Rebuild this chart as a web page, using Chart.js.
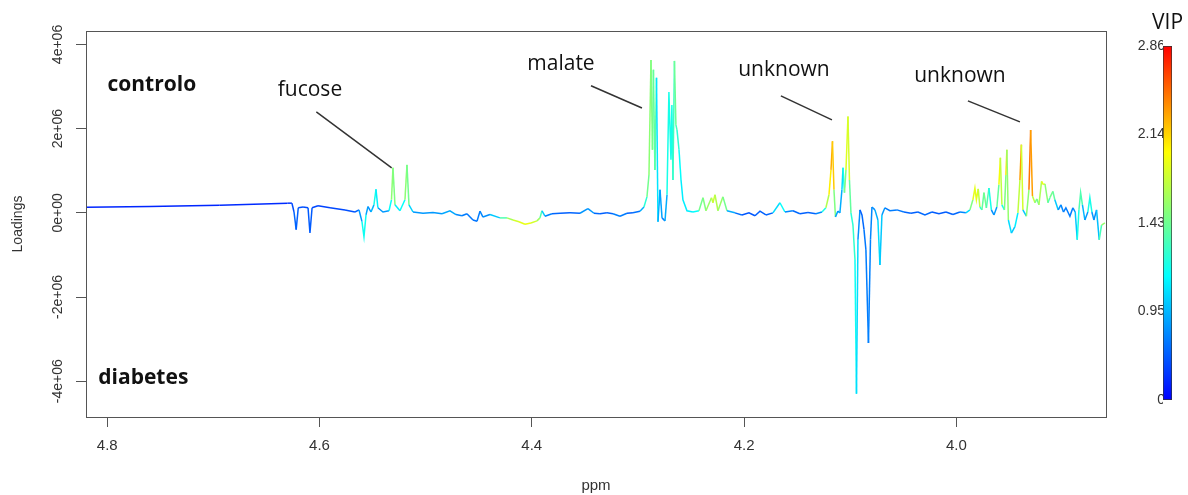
<!DOCTYPE html>
<html>
<head>
    <title>PLS-DA loadings, 3.86-4.82 ppm</title>
    <script src="https://cdn.jsdelivr.net/npm/chart.js"></script>
    <style>
        body { margin: 0; background: #fff; }
        canvas { position: absolute; top: 0; }
        #loadings { left: 0; }
        #vipBar { left: 1110px; }
    </style>
</head>
<body>
    <canvas id="loadings" width="1110" height="495"></canvas>
    <canvas id="vipBar" width="78" height="495"></canvas>
    <script>
        // chemical shift (ppm), loading and VIP of each spectrum point
        const ppm = [4.820, 4.760, 4.694, 4.630, 4.626, 4.624, 4.622, 4.620, 4.6155, 4.6108,
            4.609, 4.607, 4.6014, 4.5901, 4.576, 4.5666, 4.5628, 4.560, 4.5581, 4.5562,
            4.5543, 4.5515, 4.5487, 4.5468, 4.545, 4.5402, 4.5345, 4.5322, 4.5308, 4.5289,
            4.5242, 4.5195, 4.5176, 4.5157, 4.5119, 4.5025, 4.4931, 4.4846, 4.4771, 4.4714,
            4.4658, 4.4611, 4.4554, 4.4516, 4.4488, 4.446, 4.4394, 4.430, 4.4234, 4.4177,
            4.4121, 4.4064, 4.4008, 4.3951, 4.3923, 4.3904, 4.3876, 4.381, 4.3734, 4.364,
            4.3546, 4.3471, 4.3414, 4.3358, 4.3292, 4.3235, 4.3169, 4.3103, 4.3047, 4.2981,
            4.2943, 4.2915, 4.2896, 4.2877, 4.2863, 4.2854, 4.2840, 4.2825, 4.2811, 4.2792,
            4.2773, 4.2745, 4.2726, 4.2708, 4.2689, 4.2680, 4.2670, 4.2656, 4.2642, 4.2632,
            4.2613, 4.2594, 4.2576, 4.2538, 4.2482, 4.2425, 4.2387, 4.2359, 4.2307, 4.2293,
            4.2274, 4.2246, 4.2199, 4.2161, 4.2086, 4.2020, 4.1954, 4.1897, 4.1850, 4.1794,
            4.1728, 4.1662, 4.1615, 4.1540, 4.1474, 4.1398, 4.1323, 4.1266, 4.1229, 4.1200,
            4.1181, 4.1167, 4.1153, 4.1139, 4.1116, 4.1097, 4.1078, 4.1068, 4.1054, 4.1040,
            4.1021, 4.1007, 4.0993, 4.0974, 4.0955, 4.0941, 4.0927, 4.0908, 4.0889, 4.0870,
            4.0852, 4.0828, 4.0809, 4.0795, 4.0767, 4.0739, 4.0720, 4.0701, 4.0673, 4.0626,
            4.0560, 4.0494, 4.0428, 4.0362, 4.0296, 4.0230, 4.0164, 4.0098, 4.0032, 3.9966,
            3.9910, 3.9872, 3.9844, 3.9825, 3.9811, 3.9794, 3.9778, 3.9759, 3.9740, 3.9717,
            3.9693, 3.9670, 3.9646, 3.9618, 3.9599, 3.9585, 3.9571, 3.9547, 3.9533, 3.9524,
            3.9510, 3.9481, 3.9448, 3.9420, 3.9401, 3.9387, 3.9373, 3.9340, 3.9316, 3.9300,
            3.9283, 3.9259, 3.9241, 3.9222, 3.9197, 3.9180, 3.9165, 3.9137, 3.9119, 3.9090,
            3.9072, 3.9040, 3.9015, 3.8991, 3.8968, 3.8930, 3.8902, 3.8880, 3.8861, 3.8845,
            3.8829, 3.8812, 3.8789, 3.8761, 3.8742, 3.8723, 3.8704, 3.8679, 3.8654, 3.8632,
            3.8600];

        const loading = [0.13e6, 0.15e6, 0.18e6, 0.23e6, 0.23e6, 0.02e6, -0.40e6, 0.12e6, 0.14e6, 0.12e6,
            -0.48e6, 0.12e6, 0.17e6, 0.12e6, 0.07e6, 0.02e6, 0.07e6, -0.21e6, -0.57e6, -0.05e6,
            0.15e6, 0.02e6, 0.19e6, 0.56e6, 0.12e6, 0.02e6, 0.05e6, 0.31e6, 1.07e6, 0.19e6,
            0.05e6, 0.31e6, 1.14e6, 0.19e6, 0.02e6, -0.01e6, 0.01e6, -0.02e6, 0.05e6, -0.04e6,
            -0.07e6, -0.02e6, -0.17e6, -0.20e6, 0.04e6, -0.10e6, -0.04e6, -0.12e6, -0.12e6, -0.17e6,
            -0.21e6, -0.27e6, -0.24e6, -0.19e6, -0.12e6, 0.05e6, -0.08e6, -0.02e6, -0.01e6, 0.00e6,
            -0.01e6, 0.10e6, -0.01e6, -0.02e6, 0.00e6, -0.02e6, -0.08e6, -0.01e6, 0.00e6, 0.04e6,
            0.14e6, 0.38e6, 0.90e6, 3.63e6, 1.50e6, 3.40e6, 1.02e6, 3.21e6, -0.21e6, 0.55e6,
            -0.12e6, -0.19e6, 0.43e6, 2.87e6, 1.26e6, 2.56e6, 0.78e6, 3.61e6, 2.09e6, 1.97e6,
            1.50e6, 0.78e6, 0.31e6, 0.05e6, 0.02e6, 0.05e6, 0.36e6, 0.05e6, 0.36e6, 0.24e6,
            0.43e6, 0.05e6, 0.38e6, 0.05e6, 0.00e6, -0.05e6, 0.00e6, -0.07e6, 0.04e6, -0.05e6,
            0.00e6, 0.24e6, 0.02e6, 0.05e6, -0.02e6, 0.01e6, -0.02e6, 0.02e6, 0.12e6, 0.43e6,
            1.02e6, 1.70e6, 0.55e6, -0.10e6, 0.04e6, 0.00e6, 0.55e6, 1.07e6, 0.48e6, 1.02e6,
            2.29e6, 0.78e6, 0.00e6, -0.29e6, -1.12e6, -4.30e6, -0.64e6, 0.07e6, -0.05e6, -0.40e6,
            -0.88e6, -3.09e6, -0.64e6, 0.14e6, 0.07e6, -0.17e6, -1.24e6, -0.05e6, 0.12e6, 0.05e6,
            0.07e6, 0.02e6, -0.01e6, 0.02e6, -0.05e6, 0.02e6, -0.02e6, 0.02e6, -0.04e6, 0.02e6,
            0.00e6, 0.07e6, 0.31e6, 0.59e6, 0.31e6, 0.57e6, 0.14e6, 0.07e6, 0.48e6, 0.12e6,
            0.59e6, 0.07e6, -0.05e6, 0.14e6, 0.67e6, 1.31e6, 0.19e6, 0.07e6, 0.90e6, 1.50e6,
            -0.17e6, -0.48e6, -0.33e6, 0.00e6, 0.78e6, 1.62e6, 0.07e6, -0.08e6, 0.55e6, 1.97e6,
            0.40e6, 0.24e6, 0.33e6, 0.19e6, 0.75e6, 0.67e6, 0.69e6, 0.24e6, 0.36e6, 0.51e6,
            0.31e6, 0.07e6, 0.19e6, 0.02e6, 0.12e6, -0.08e6, 0.12e6, 0.02e6, -0.64e6, 0.07e6,
            0.48e6, 0.19e6, -0.17e6, 0.02e6, 0.36e6, 0.02e6, -0.17e6, 0.07e6, -0.64e6, -0.29e6,
            -0.24e6];

        const vip = [0.2, 0.2, 0.2, 0.25, 0.3, 0.5, 0.55, 0.45, 0.4, 0.4,
            0.55, 0.4, 0.35, 0.35, 0.4, 0.45, 0.6, 1.0, 1.35, 1.0,
            0.7, 0.8, 1.1, 1.3, 0.9, 0.7, 0.9, 1.4, 1.7, 1.3,
            0.9, 1.4, 1.7, 1.2, 0.85, 0.75, 0.85, 0.75, 1.0, 0.75,
            0.65, 0.65, 0.6, 0.6, 0.7, 0.7, 0.8, 1.2, 1.5, 1.8,
            1.85, 1.95, 1.9, 1.75, 1.5, 1.2, 0.8, 0.55, 0.5, 0.5,
            0.55, 1.0, 0.6, 0.5, 0.5, 0.55, 0.8, 0.5, 0.5, 0.7,
            1.1, 1.4, 1.5, 1.6, 1.4, 1.5, 1.3, 1.45, 0.7, 1.1,
            0.6, 0.7, 1.1, 1.3, 1.1, 1.3, 1.1, 1.5, 1.35, 1.3,
            1.2, 1.1, 1.1, 1.1, 1.1, 1.2, 1.7, 1.3, 1.9, 1.6,
            2.0, 1.4, 1.8, 1.1, 0.7, 0.45, 0.45, 0.45, 0.55, 0.45,
            0.6, 1.5, 0.8, 0.6, 0.5, 0.5, 0.55, 0.9, 1.5, 1.9,
            2.2, 2.35, 2.0, 1.0, 0.7, 0.8, 1.0, 1.1, 1.3, 1.7,
            2.05, 1.6, 1.2, 1.3, 1.25, 1.1, 1.0, 0.5, 0.5, 0.6,
            0.65, 0.65, 0.7, 0.7, 0.8, 1.0, 1.1, 0.9, 0.7, 0.6,
            0.7, 0.55, 0.5, 0.5, 0.6, 0.5, 0.45, 0.5, 0.5, 0.6,
            0.8, 1.3, 1.7, 2.1, 1.7, 2.1, 1.4, 1.1, 1.7, 1.2,
            1.5, 0.9, 0.6, 1.0, 1.8, 2.1, 1.4, 1.0, 2.0, 2.15,
            1.0, 1.1, 0.9, 1.3, 2.2, 2.45, 1.2, 0.8, 2.3, 2.65,
            2.0, 1.5, 1.5, 1.4, 1.95, 1.9, 1.8, 1.3, 1.4, 1.5,
            1.3, 0.7, 0.8, 0.6, 0.7, 0.6, 0.7, 0.8, 1.2, 1.2,
            1.5, 1.2, 0.7, 0.9, 1.5, 0.9, 0.7, 0.8, 1.15, 1.5,
            1.65];

        // axis ticks
        const xTicks = [4.8, 4.6, 4.4, 4.2, 4.0];
        const xTickLabels = ['4.8', '4.6', '4.4', '4.2', '4.0'];
        const yTicks = [-4e6, -2e6, 0, 2e6, 4e6];
        const yTickLabels = ['-4e+06', '-2e+06', '0e+00', '2e+06', '4e+06'];

        // VIP colour key: breaks shown at equal steps on the bar
        const vipBreaks = [0, 0.95, 1.43, 2.14, 2.86];
        const vipLabels = ['0', '0.95', '1.43', '2.14', '2.86'];

        // group names and peak assignments
        const groupNames = ['controlo', 'diabetes'];
        const groupPpm = [4.758, 4.766];
        const groupLoading = [3.04e6, -3.92e6];
        const peakNames = ['fucose', 'malate', 'unknown', 'unknown'];
        const peakNamePpm = [4.609, 4.3725, 4.1624, 3.9966];
        const peakNameLoading = [2.92e6, 3.54e6, 3.40e6, 3.25e6];
        const leaderFromPpm = [4.603, 4.3442, 4.1653, 3.9891];
        const leaderFromLoading = [2.40e6, 3.02e6, 2.78e6, 2.66e6];
        const leaderToPpm = [4.532, 4.2962, 4.1172, 3.9401];
        const leaderToLoading = [1.07e6, 2.49e6, 2.21e6, 2.16e6];

        const rainbow = [[0, [0, 0, 255]], [0.35, [0, 255, 255]], [0.7, [255, 255, 0]], [1, [255, 0, 0]]];

        // position of a VIP value along the key (0..1)
        const vipPos = v => {
            for (let i = 1; i < vipBreaks.length; i++) {
                if (v <= vipBreaks[i]) {
                    const f = (v - vipBreaks[i - 1]) / (vipBreaks[i] - vipBreaks[i - 1]);
                    return (i - 1 + f) / (vipBreaks.length - 1);
                }
            }
            return 1;
        };

        const vipColor = v => {
            const t = Math.max(0, Math.min(1, vipPos(v)));
            for (let i = 1; i < rainbow.length; i++) {
                if (t <= rainbow[i][0]) {
                    const [t0, c0] = rainbow[i - 1];
                    const [t1, c1] = rainbow[i];
                    const f = (t - t0) / (t1 - t0);
                    const c = c0.map((a, k) => Math.round(a + (c1[k] - a) * f));
                    return `rgb(${c[0]},${c[1]},${c[2]})`;
                }
            }
            return 'rgb(255,0,0)';
        };

        Chart.defaults.font.family = "'Liberation Sans', Arial, sans-serif";
        Chart.defaults.color = '#333';

        const framePlugin = {
            id: 'frame',
            afterDatasetsDraw(chart) {
                const { ctx, chartArea: a } = chart;
                ctx.save();
                ctx.strokeStyle = '#555';
                ctx.lineWidth = 1;
                ctx.strokeRect(a.left + 0.5, a.top + 0.5, a.right - a.left, a.bottom - a.top);
                ctx.restore();
            }
        };

        const notesPlugin = {
            id: 'notes',
            afterDatasetsDraw(chart) {
                const { ctx, scales: { x, y } } = chart;
                ctx.save();
                ctx.fillStyle = '#111';
                ctx.textAlign = 'center';
                ctx.textBaseline = 'middle';
                ctx.font = "bold 21px 'Open Sans'";
                groupNames.forEach((t, i) => {
                    ctx.fillText(t, x.getPixelForValue(groupPpm[i]), y.getPixelForValue(groupLoading[i]));
                });
                ctx.font = "21px 'Open Sans'";
                ctx.strokeStyle = '#333';
                ctx.lineWidth = 1.5;
                peakNames.forEach((t, i) => {
                    ctx.fillText(t, x.getPixelForValue(peakNamePpm[i]), y.getPixelForValue(peakNameLoading[i]));
                    ctx.beginPath();
                    ctx.moveTo(x.getPixelForValue(leaderFromPpm[i]), y.getPixelForValue(leaderFromLoading[i]));
                    ctx.lineTo(x.getPixelForValue(leaderToPpm[i]), y.getPixelForValue(leaderToLoading[i]));
                    ctx.stroke();
                });
                ctx.restore();
            }
        };

        new Chart(document.getElementById('loadings'), {
            type: 'line',
            data: {
                datasets: [{
                    data: ppm.map((p, i) => ({ x: p, y: loading[i] })),
                    borderWidth: 1.5,
                    pointRadius: 0,
                    tension: 0,
                    segment: {
                        borderColor: ctx => vipColor((vip[ctx.p0DataIndex] + vip[ctx.p1DataIndex]) / 2)
                    }
                }]
            },
            options: {
                responsive: false,
                animation: false,
                layout: { padding: { left: 0, top: 31, right: 4, bottom: 0 } },
                plugins: { legend: { display: false }, tooltip: { enabled: false } },
                scales: {
                    x: {
                        type: 'linear',
                        reverse: true,
                        min: 3.859,
                        max: 4.82,
                        afterFit: s => { s.height = 78; },
                        afterBuildTicks: s => { s.ticks = xTicks.map(v => ({ value: v })); },
                        ticks: {
                            callback: (v, i) => xTickLabels[i],
                            maxRotation: 0,
                            padding: 10,
                            font: { size: 15 }
                        },
                        grid: { drawOnChartArea: false, tickLength: 10, color: '#555' },
                        border: { display: false },
                        title: { display: true, text: 'ppm', padding: 0, font: { size: 15 } }
                    },
                    y: {
                        min: -4.85e6,
                        max: 4.32e6,
                        afterFit: s => { s.width = 86; },
                        afterBuildTicks: s => { s.ticks = yTicks.map(v => ({ value: v })); },
                        ticks: {
                            callback: (v, i) => yTickLabels[i],
                            minRotation: 90,
                            maxRotation: 90,
                            crossAlign: 'center',
                            padding: -4,
                            font: { size: 14 }
                        },
                        grid: { drawOnChartArea: false, tickLength: 10, color: '#555' },
                        border: { display: false },
                        title: { display: true, text: 'Loadings', padding: { top: 10 }, font: { size: 14 } }
                    }
                }
            },
            plugins: [framePlugin, notesPlugin]
        });

        // colour key
        const keyTitle = {
            id: 'keyTitle',
            afterDraw(chart) {
                const { ctx, chartArea: a } = chart;
                ctx.save();
                ctx.fillStyle = '#111';
                ctx.textAlign = 'center';
                ctx.textBaseline = 'middle';
                ctx.font = "21px 'Open Sans'";
                ctx.fillText('VIP', (a.left + a.right) / 2, 23);
                ctx.restore();
            }
        };

        new Chart(document.getElementById('vipBar'), {
            type: 'bar',
            data: {
                labels: ['VIP'],
                datasets: [{
                    data: [[0, vipBreaks.length - 1]],
                    backgroundColor: ctx => {
                        const a = ctx.chart.chartArea;
                        if (!a) return '#00f';
                        const g = ctx.chart.ctx.createLinearGradient(0, a.bottom, 0, a.top);
                        rainbow.forEach(([t, c]) => g.addColorStop(t, `rgb(${c[0]},${c[1]},${c[2]})`));
                        return g;
                    },
                    borderColor: '#333',
                    borderWidth: 1,
                    borderSkipped: false,
                    barPercentage: 1,
                    categoryPercentage: 1
                }]
            },
            options: {
                responsive: false,
                animation: false,
                layout: { padding: { left: 0, top: 46, right: 16, bottom: 95 } },
                plugins: { legend: { display: false }, tooltip: { enabled: false } },
                scales: {
                    x: { display: false },
                    y: {
                        min: 0,
                        max: vipBreaks.length - 1,
                        afterFit: s => { s.width = 53; },
                        afterBuildTicks: s => { s.ticks = vipBreaks.map((v, i) => ({ value: i })); },
                        ticks: { callback: (v, i) => vipLabels[i], padding: -2, font: { size: 14 } },
                        grid: { display: false, drawTicks: false },
                        border: { display: false }
                    }
                }
            },
            plugins: [keyTitle]
        });
    </script>
</body>
</html>
